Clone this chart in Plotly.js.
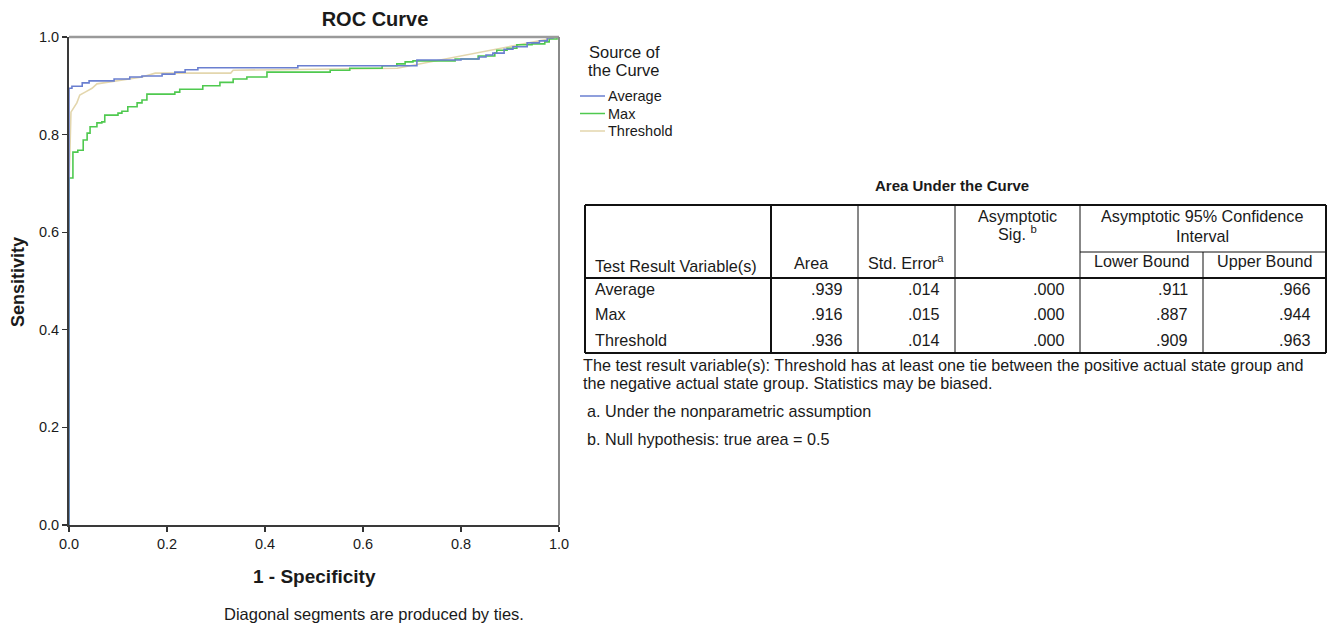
<!DOCTYPE html>
<html>
<head>
<meta charset="utf-8">
<script src="https://cdn.plot.ly/plotly-3.0.1.min.js"></script>
<style>html,body{margin:0;padding:0;background:#fff;}#chart{width:1336px;height:628px;}</style>
</head>
<body>
<div id="chart"></div>
<script>
// ---------- DATA ----------
const seriesNames = ['Average', 'Max', 'Threshold'];
const seriesColors = ['#6a7fd0', '#4fc94f', '#e3d6ad'];

// ROC step points (1 - specificity, sensitivity)
const averageX = [0, 0, 0.006, 0.027, 0.041, 0.092, 0.124, 0.149, 0.19, 0.216, 0.237, 0.263, 0.467, 0.70, 0.71, 0.80, 0.837, 0.851, 0.865, 0.888, 0.906, 0.935, 0.96, 0.976, 0.988, 1.0];
const averageY = [0, 0.895, 0.899, 0.906, 0.91, 0.914, 0.918, 0.92, 0.924, 0.928, 0.933, 0.937, 0.941, 0.941, 0.953, 0.955, 0.959, 0.963, 0.967, 0.975, 0.98, 0.988, 0.992, 0.998, 1.0, 1.0];

const maxX = [0, 0, 0.008, 0.018, 0.029, 0.037, 0.043, 0.057, 0.067, 0.073, 0.1, 0.108, 0.12, 0.139, 0.149, 0.159, 0.216, 0.226, 0.273, 0.308, 0.335, 0.363, 0.404, 0.533, 0.573, 0.639, 0.669, 0.686, 0.702, 0.788, 0.835, 0.869, 0.873, 0.894, 0.914, 0.945, 0.971, 0.98, 0.996, 1.0];
const maxY = [0, 0.711, 0.764, 0.768, 0.789, 0.803, 0.816, 0.824, 0.826, 0.84, 0.844, 0.848, 0.857, 0.865, 0.871, 0.883, 0.887, 0.893, 0.9, 0.907, 0.914, 0.918, 0.928, 0.932, 0.936, 0.941, 0.945, 0.949, 0.951, 0.955, 0.961, 0.967, 0.973, 0.977, 0.984, 0.986, 0.99, 0.996, 1.0, 1.0];

const thresholdX = [0, 0, 0.002, 0.004, 0.016, 0.022, 0.033, 0.047, 0.057, 0.082, 0.122, 0.149, 0.176, 0.33, 0.335, 0.67, 1.0];
const thresholdY = [0, 0.70, 0.77, 0.846, 0.865, 0.881, 0.887, 0.895, 0.904, 0.908, 0.914, 0.918, 0.926, 0.926, 0.932, 0.936, 1.0];

const tickVals = [0, 0.2, 0.4, 0.6, 0.8, 1.0];
const tickLabels = ['0.0', '0.2', '0.4', '0.6', '0.8', '1.0'];

// Area Under the Curve table
const tableRows = ['Average', 'Max', 'Threshold'];
const areaVals = ['.939', '.916', '.936'];
const stdErrVals = ['.014', '.015', '.014'];
const sigVals = ['.000', '.000', '.000'];
const lowerVals = ['.911', '.887', '.909'];
const upperVals = ['.966', '.944', '.963'];

const footnotes = [
  'The test result variable(s): Threshold has at least one tie between the positive actual state group and',
  'the negative actual state group. Statistics may be biased.',
  'a. Under the nonparametric assumption',
  'b. Null hypothesis: true area = 0.5'
];

// ---------- LAYOUT HELPERS ----------
const L = 69, R = 559, T = 37, B = 525;
const X = px => (px - L) / (R - L);
const Y = py => (B - py) / (B - T);
const FONT = 'Liberation Sans, Arial, sans-serif';
const TXT = '#1a1a1a';
const TS = 16.2; // table text size

const annotations = [];
const shapes = [];
function ann(text, px, py, xanchor, size, bold) {
  annotations.push({
    xref: 'paper', yref: 'paper', x: X(px), y: Y(py), text: bold ? '<b>' + text + '</b>' : text,
    showarrow: false, xanchor: xanchor || 'left', yanchor: 'middle',
    font: {family: FONT, size: size || 13, color: TXT}
  });
}
function line(x0, y0, x1, y1, color, width) {
  shapes.push({type: 'line', xref: 'paper', yref: 'paper', x0: X(x0), y0: Y(y0), x1: X(x1), y1: Y(y1),
    line: {color: color, width: width}});
}

// plot frame top & right
line(L, T, R, T, '#9a9a9a', 2.5);
line(R, T, R, B, '#8a8a8a', 2);

// axis titles and caption
ann('1 - Specificity', 314, 576, 'center', 19, true);
annotations.push({xref: 'paper', yref: 'paper', x: X(18), y: Y(282), text: '<b>Sensitivity</b>', textangle: -90,
  showarrow: false, xanchor: 'center', yanchor: 'middle', font: {family: FONT, size: 18, color: TXT}});
ann('Diagonal segments are produced by ties.', 374, 614, 'center', 16.5);

// custom legend
ann('Source of', 624, 52, 'center', 16.5);
ann('the Curve', 624, 70, 'center', 16.5);
seriesNames.forEach((n, i) => {
  const yy = 96 + i * 17.5;
  line(580, yy, 605, yy, seriesColors[i], 1.5);
  ann(n, 606, yy, 'left', 14.5);
});

// table
ann('Area Under the Curve', 952, 185, 'center', 15, true);
const cx = [585, 771, 858, 955, 1080, 1203, 1326];
const rTop = 205, rSub = 252, rHead = 278, rBot = 353;
const rowMid = [289, 314, 340];
// outer border
line(cx[0], rTop, cx[6], rTop, '#111', 2);
line(cx[0], rBot, cx[6], rBot, '#111', 2);
line(cx[0], rTop, cx[0], rBot, '#111', 2);
line(cx[6], rTop, cx[6], rBot, '#111', 2);
// header separator
line(cx[0], rHead, cx[6], rHead, '#111', 2);
line(cx[4], rSub, cx[6], rSub, '#111', 1);
// vertical separators
line(cx[1], rTop, cx[1], rBot, '#111', 2);
[2, 3, 4].forEach(k => line(cx[k], rTop, cx[k], rBot, '#111', 1));
line(cx[5], rSub, cx[5], rBot, '#111', 1);

// header texts
ann('Test Result Variable(s)', 593, 266, 'left', TS);
ann('Area', 811, 263, 'center', TS);
ann('Std. Error<sup>a</sup>', 906, 262, 'center', TS);
ann('Asymptotic', 1017, 216, 'center', TS);
ann('Sig. <sup>b</sup>', 1017, 233, 'center', TS);
ann('Asymptotic 95% Confidence', 1202, 216, 'center', TS);
ann('Interval', 1202, 236, 'center', TS);
ann('Lower Bound', 1141, 261, 'center', TS);
ann('Upper Bound', 1264, 261, 'center', TS);

// body
const cols = [areaVals, stdErrVals, sigVals, lowerVals, upperVals];
tableRows.forEach((r, i) => {
  ann(r, 593, rowMid[i], 'left', TS);
  cols.forEach((c, k) => ann(c[i], cx[k + 2] - 13, rowMid[i], 'right', TS));
});

// footnotes
ann(footnotes[0], 581, 365, 'left', TS);
ann(footnotes[1], 581, 383, 'left', TS);
ann(footnotes[2], 585, 411, 'left', TS);
ann(footnotes[3], 585, 439, 'left', TS);

// ---------- TRACES ----------
const traces = [
  {x: thresholdX, y: thresholdY, name: seriesNames[2], mode: 'lines', line: {color: seriesColors[2], width: 1.6, shape: 'linear'}},
  {x: maxX, y: maxY, name: seriesNames[1], mode: 'lines', line: {color: seriesColors[1], width: 1.6, shape: 'hv'}},
  {x: averageX, y: averageY, name: seriesNames[0], mode: 'lines', line: {color: seriesColors[0], width: 1.6, shape: 'hv'}}
].map(t => Object.assign(t, {cliponaxis: false, hoverinfo: 'x+y+name'}));

const axisCommon = {
  range: [0, 1], tickvals: tickVals, ticktext: tickLabels, ticks: 'outside', ticklen: 5, tickwidth: 1.2,
  tickcolor: '#333', showline: true, linecolor: '#3a3a3a', linewidth: 2, showgrid: false, zeroline: false,
  tickfont: {family: FONT, size: 14.5, color: TXT}, fixedrange: true
};

const layout = {
  width: 1336, height: 628,
  margin: {l: L, r: 1336 - R, t: T, b: 628 - B, pad: 0},
  paper_bgcolor: '#fff', plot_bgcolor: '#fff',
  showlegend: false,
  title: {text: '<b>ROC Curve</b>', x: 375 / 1336, xanchor: 'center', y: 1 - 19 / 628, yanchor: 'middle',
    font: {family: FONT, size: 20, color: TXT}},
  xaxis: Object.assign({}, axisCommon),
  yaxis: Object.assign({}, axisCommon),
  annotations: annotations,
  shapes: shapes
};

Plotly.newPlot('chart', traces, layout, {displayModeBar: false, staticPlot: true});
</script>
</body>
</html>
